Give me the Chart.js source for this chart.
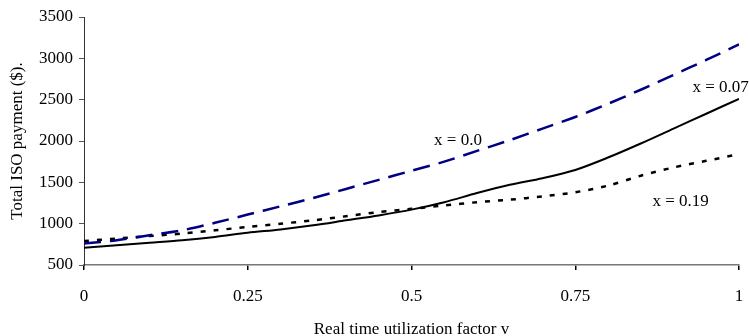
<!DOCTYPE html>
<html>
<head>
<meta charset="utf-8">
<script src="https://cdn.jsdelivr.net/npm/chart.js@4/dist/chart.umd.min.js"></script>
<style>
html,body{margin:0;padding:0;background:#fff;}
#wrap{width:749px;height:336px;position:relative;}
</style>
</head>
<body>
<div id="wrap"><canvas id="c" width="749" height="336"></canvas></div>
<script>
const vValues = [0,0.05,0.1,0.15,0.2,0.25,0.3,0.35,0.4,0.45,0.5,0.55,0.6,0.65,0.7,0.75,0.8,0.85,0.9,0.95,1.0];
const seriesX000 = [760,800,860,920,1010,1110,1210,1310,1420,1530,1640,1750,1880,2010,2150,2290,2450,2620,2800,2980,3170];
const seriesX007 = [710,740,770,800,840,890,930,980,1040,1100,1170,1260,1370,1470,1550,1650,1800,1970,2150,2330,2510];
const seriesX019 = [790,820,850,880,920,960,1000,1040,1090,1140,1180,1220,1260,1290,1330,1380,1460,1580,1680,1760,1840];
const seriesNames = ["x = 0.0","x = 0.07","x = 0.19"];
const labelPositions = [[0.571,2000],[0.972,2650],[0.911,1262]];
const yTicks = [500,1000,1500,2000,2500,3000,3500];
const yTickLabels = ["500","1000","1500","2000","2500","3000","3500"];
const xTicks = [0,0.25,0.5,0.75,1];
const xTickLabels = ["0","0.25","0.5","0.75","1"];

const toPts = (arr) => arr.map((y,i)=>({x:vValues[i], y:y}));
const FONT_FAMILY = "'Liberation Serif', 'Times New Roman', serif";
const font = {family:FONT_FAMILY, size:17};

const labelPlugin = {
  id:'seriesLabels',
  afterDatasetsDraw(chart){
    const ctx = chart.ctx;
    const xs = chart.scales.x, ys = chart.scales.y;
    ctx.save();
    ctx.font = "17px " + FONT_FAMILY;
    ctx.fillStyle = '#000';
    ctx.textAlign = 'center';
    ctx.textBaseline = 'middle';
    seriesNames.forEach((n,i)=>{
      ctx.fillText(n, xs.getPixelForValue(labelPositions[i][0]), ys.getPixelForValue(labelPositions[i][1]));
    });
    ctx.restore();
  }
};

new Chart(document.getElementById('c'), {
  type:'line',
  data:{
    datasets:[
      {label:seriesNames[0], data:toPts(seriesX000), borderColor:'#000080', borderWidth:2.5, borderDash:[17,9], pointRadius:0, tension:0.3, fill:false},
      {label:seriesNames[1], data:toPts(seriesX007), borderColor:'#000', borderWidth:2, pointRadius:0, tension:0.3, fill:false},
      {label:seriesNames[2], data:toPts(seriesX019), borderColor:'#000', borderWidth:2.5, borderDash:[5,8], pointRadius:0, tension:0.3, fill:false}
    ]
  },
  options:{
    responsive:false,
    animation:false,
    layout:{padding:{left:0,right:10,top:17,bottom:0}},
    plugins:{legend:{display:false}, tooltip:{enabled:false}},
    scales:{
      x:{
        type:'linear', min:0, max:1,
        afterBuildTicks(s){ s.ticks = xTicks.map(v=>({value:v})); },
        afterFit(s){ s.height = 71; s.paddingLeft = 0; s.paddingRight = 0; },
        grid:{drawOnChartArea:false, drawTicks:true, tickLength:5, color:'#000', lineWidth:1.5},
        border:{color:'#777', width:1.5},
        ticks:{color:'#000', font:font, padding:16, maxRotation:0, autoSkip:false,
          callback:(v)=>{ const i = xTicks.indexOf(v); return i>=0 ? xTickLabels[i] : ''; }},
        title:{display:true, text:'Real time utilization factor v', color:'#000', font:font, padding:{top:0,bottom:-4}}
      },
      y:{
        type:'linear', min:500, max:3500,
        afterBuildTicks(s){ s.ticks = yTicks.map(v=>({value:v})); },
        afterFit(s){ s.width = 84; },
        grid:{drawOnChartArea:false, drawTicks:true, tickLength:5, color:'#555', lineWidth:1},
        border:{color:'#333', width:1},
        ticks:{color:'#000', font:font, padding:6, autoSkip:false,
          callback:(v)=>{ const i = yTicks.indexOf(v); return i>=0 ? yTickLabels[i] : ''; }},
        title:{display:true, text:'Total ISO payment ($).', color:'#000', font:font, padding:{top:7,bottom:0}}
      }
    }
  },
  plugins:[labelPlugin]
});
</script>
</body>
</html>
